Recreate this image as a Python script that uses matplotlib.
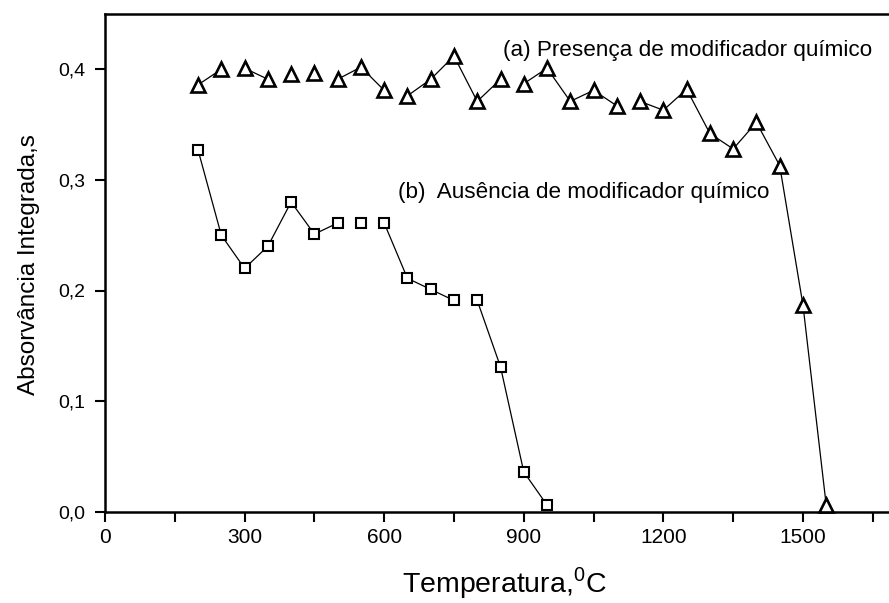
import numpy as np
import matplotlib
matplotlib.use('Agg')
import matplotlib.pyplot as plt
from matplotlib.ticker import FuncFormatter, MultipleLocator

plt.rcParams['font.family'] = ['Liberation Sans', 'DejaVu Sans']
plt.rcParams['mathtext.fontset'] = 'custom'
plt.rcParams['mathtext.rm'] = 'Liberation Sans'

# (a) presença de modificador químico
temp_a = [200, 250, 300, 350, 400, 450, 500, 550, 600, 650, 700, 750, 800, 850,
          900, 950, 1000, 1050, 1100, 1150, 1200, 1250, 1300, 1350, 1400, 1450, 1500, 1550]
abs_a = [0.386, 0.400, 0.401, 0.391, 0.396, 0.397, 0.391, 0.402, 0.381, 0.376, 0.391, 0.412, 0.371, 0.391,
         0.387, 0.401, 0.371, 0.381, 0.367, 0.371, 0.363, 0.382, 0.342, 0.328, 0.352, 0.313, 0.187, 0.006]

# (b) ausência de modificador químico
temp_b = [200, 250, 300, 350, 400, 450, 500, 550, 600, 650, 700, 750, 800, 850, 900, 950]
abs_b = [0.327, 0.250, 0.220, 0.240, 0.280, 0.251, 0.261, 0.261, 0.261, 0.211, 0.201, 0.191, 0.191,
         0.131, 0.036, 0.006]

fig = plt.figure(figsize=(8.89, 6.03), dpi=100)
ax = fig.add_axes([105/889, 91.3/603, 791/889, 497.7/603])
ax.set_xlim(0, 1700)
ax.set_ylim(0, 0.45)


def liga_pontos(ax, x, y):
    # no original digitalizado os trechos quase horizontais sumiram
    pts = ax.transData.transform(np.column_stack([x, y]))
    for i in range(len(x) - 1):
        if abs(pts[i + 1, 1] - pts[i, 1]) > 8:
            ax.plot(x[i:i + 2], y[i:i + 2], color='black', lw=0.9, zorder=2)


liga_pontos(ax, temp_a, abs_a)
liga_pontos(ax, temp_b, abs_b)
ax.plot(temp_a, abs_a, ls='none', marker='^', ms=10.5, mew=1.9, mfc='white', mec='black', zorder=3,
        clip_on=False)
ax.plot(temp_b, abs_b, ls='none', marker='s', ms=7.8, mew=1.5, mfc='white', mec='black', zorder=3,
        clip_on=False)

ax.text(855, 0.412, '(a) Presença de modificador químico', fontsize=16.2, va='baseline')
ax.text(630, 0.284, '(b)  Ausência de modificador químico', fontsize=16.2, va='baseline')

ax.xaxis.set_major_locator(MultipleLocator(300))
ax.xaxis.set_minor_locator(MultipleLocator(150))
ax.yaxis.set_major_locator(MultipleLocator(0.1))
ax.yaxis.set_major_formatter(FuncFormatter(lambda v, p: f'{v:.1f}'.replace('.', ',')))
ax.tick_params(axis='both', which='major', direction='out', length=7, width=1.5)
ax.tick_params(axis='x', which='minor', direction='out', length=7, width=1.5)
ax.tick_params(axis='x', labelsize=15, pad=5)
ax.tick_params(axis='y', labelsize=14, pad=7)

for s in ax.spines.values():
    s.set_linewidth(1.8)

fig.text(504/889, 11/603, 'Temperatura,$^{0}$C', fontsize=20.5, ha='center', va='baseline')
fig.text(29/889, 1 - 265/603, 'Absorvância Integrada,s', fontsize=17.5, rotation=90,
         ha='center', va='center')

fig.savefig('out.png', dpi=100)
